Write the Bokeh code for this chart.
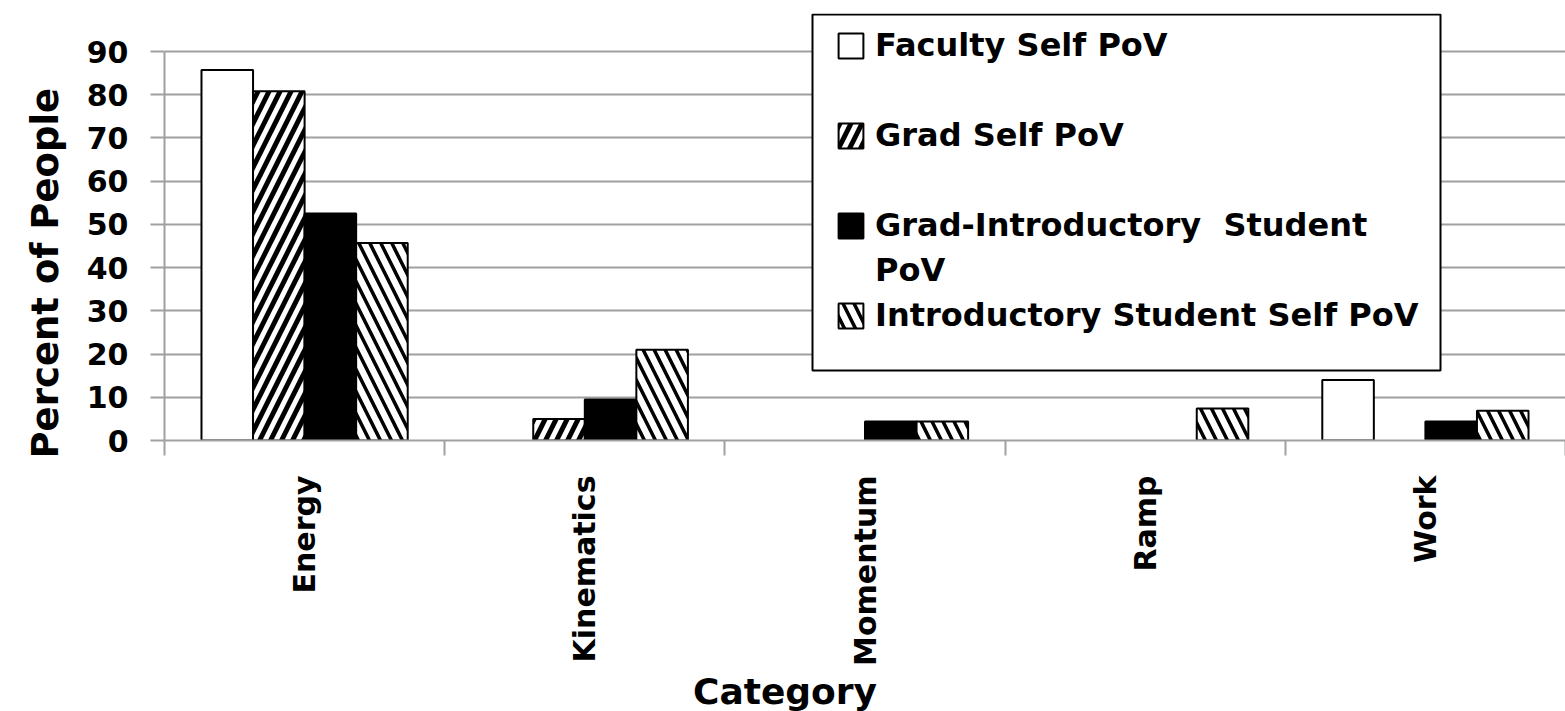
import math
import numpy as np
from bokeh.plotting import figure
from bokeh.models import (ColumnDataSource, Range1d, LinearAxis, FixedTicker, Legend,
                          LegendItem, BoxAnnotation, Title)
from bokeh.transform import dodge
from bokeh.embed import file_html
from bokeh.resources import INLINE

# ---------------- data ----------------
categories = ["Energy", "Kinematics", "Momentum", "Ramp", "Work"]
faculty_self = [85.7, 0.0, 0.0, 0.0, 14.0]
grad_self = [80.8, 5.0, 0.0, 0.0, 0.0]
grad_intro = [52.5, 9.5, 4.4, 0.0, 4.4]
intro_self = [45.7, 21.0, 4.4, 7.4, 6.9]
series_labels = ["Faculty Self PoV", "Grad Self PoV", "Grad-Introductory  Student", "PoV",
                 "Introductory Student Self PoV"]
y_ticks = [0, 10, 20, 30, 40, 50, 60, 70, 80, 90]
x_title = "Category"
y_title = "Percent of People"

# ---------------- layout ----------------
FONT = "DejaVu Sans"
W, H = 1565, 711
LEFT, TOP = 164, 13
F_TOP, F_BOT = 51, 440            # px of y=90 and y=0
BOTTOM = H - F_BOT
PX = (F_BOT - F_TOP) / 90.0       # px per unit
Y_TOP = 90 + (F_TOP - TOP) / PX
N = len(categories)
CAT_PX = (W - LEFT) / N
GRID = "#a0a0a0"


def nz(v):
    a = np.array(v, dtype=float)
    a[a <= 0] = np.nan
    return a


centers = np.arange(N) + 0.5
src = ColumnDataSource(dict(xc=centers, fac=nz(faculty_self), grad=nz(grad_self),
                            gi=nz(grad_intro), intro=nz(intro_self)))

p = figure(width=W, height=H, x_range=Range1d(0, N), y_range=Range1d(0, Y_TOP),
           x_axis_location=None, output_backend="svg", toolbar_location=None,
           min_border_left=LEFT, min_border_right=0, min_border_top=TOP,
           min_border_bottom=BOTTOM)
p.outline_line_color = None
p.background_fill_color = "white"
p.border_fill_color = "white"

bw = 0.184
offs = [-1.5 * bw, -0.5 * bw, 0.5 * bw, 1.5 * bw]
r_fac = p.vbar(x=dodge("xc", offs[0]), top="fac", width=bw, source=src,
               fill_color="white", line_color="black", line_width=2)
r_grad = p.vbar(x=dodge("xc", offs[1]), top="grad", width=bw, source=src,
                fill_color="white", line_color="black", line_width=2,
                hatch_pattern="right_diagonal_line", hatch_color="black",
                hatch_scale=22, hatch_weight=5)
r_gi = p.vbar(x=dodge("xc", offs[2]), top="gi", width=bw, source=src,
              fill_color="black", line_color="black", line_width=2)
r_intro = p.vbar(x=dodge("xc", offs[3]), top="intro", width=bw, source=src,
                 fill_color="white", line_color="black", line_width=2,
                 hatch_pattern="left_diagonal_line", hatch_color="black",
                 hatch_scale=22, hatch_weight=3.5)

# grid
p.xgrid.visible = False
p.ygrid.ticker = FixedTicker(ticks=y_ticks)
p.ygrid.grid_line_color = GRID
p.ygrid.grid_line_width = 2

# primary y axis
ya = p.yaxis[0]
ya.ticker = FixedTicker(ticks=y_ticks)
ya.bounds = (0, 90)
ya.axis_line_color = GRID
ya.axis_line_width = 2
ya.major_tick_line_color = GRID
ya.major_tick_line_width = 2
ya.major_tick_out = 14
ya.major_tick_in = 0
ya.minor_tick_line_color = None
ya.major_label_standoff = 22
ya.major_label_text_font = FONT
ya.major_label_text_font_style = "bold"
ya.major_label_text_font_size = "30px"
ya.major_label_text_color = "black"

# y title (placed along the left side)
yt = Title(text=y_title, align="left", offset=-18, standoff=30, vertical_align="top",
           text_font=FONT, text_font_style="bold", text_font_size="37px",
           text_color="black")
p.add_layout(yt, "left")

# x tick-mark axis (category boundaries)
bounds_ticks = list(range(N + 1))
xa = LinearAxis(ticker=FixedTicker(ticks=bounds_ticks),
                axis_line_color=GRID, axis_line_width=2, major_tick_line_color=GRID,
                major_tick_line_width=2, major_tick_out=15, major_tick_in=0,
                minor_tick_line_color=None, major_label_text_font_size="0px",
                major_label_standoff=0,
                major_label_overrides={i: "" for i in bounds_ticks})
p.add_layout(xa, "below")

# category labels axis
xc = LinearAxis(ticker=FixedTicker(ticks=list(centers)),
                major_label_overrides={float(c): name for c, name in zip(centers, categories)},
                axis_line_color=None, major_tick_line_color=None, major_tick_out=0,
                major_tick_in=0, minor_tick_line_color=None,
                major_label_orientation=math.pi / 2, major_label_standoff=20,
                major_label_text_font=FONT, major_label_text_font_style="bold",
                major_label_text_font_size="30px", major_label_text_color="black")
p.add_layout(xc, "below")

# x title
xt = Title(text=x_title, align="left", offset=(786.5 - LEFT) - 94, standoff=0,
           text_font=FONT, text_font_style="bold", text_font_size="36px",
           text_color="black")
p.add_layout(xt, "below")

# legend box
box = BoxAnnotation(left=(812 - LEFT) / CAT_PX, right=(1440 - LEFT) / CAT_PX,
                    top=(F_BOT - 14) / PX, bottom=(F_BOT - 370) / PX,
                    fill_color="white", fill_alpha=1, line_color="black", line_alpha=1,
                    line_width=2)
p.add_layout(box)

items = [
    LegendItem(label=series_labels[0], renderers=[r_fac]),
    LegendItem(label="", renderers=[]),
    LegendItem(label=series_labels[1], renderers=[r_grad]),
    LegendItem(label="", renderers=[]),
    LegendItem(label=series_labels[2], renderers=[r_gi]),
    LegendItem(label=series_labels[3], renderers=[]),
    LegendItem(label=series_labels[4], renderers=[r_intro]),
]
legend = Legend(items=items, location=(671, 102.5), padding=0, spacing=0, margin=0,
                label_height=45, glyph_width=31, glyph_height=31, label_standoff=9,
                border_line_color=None, background_fill_alpha=0,
                label_text_font=FONT, label_text_font_style="bold",
                label_text_font_size="32px", label_text_color="black")
p.add_layout(legend)

open("out.html", "w").write(file_html(p, INLINE))
